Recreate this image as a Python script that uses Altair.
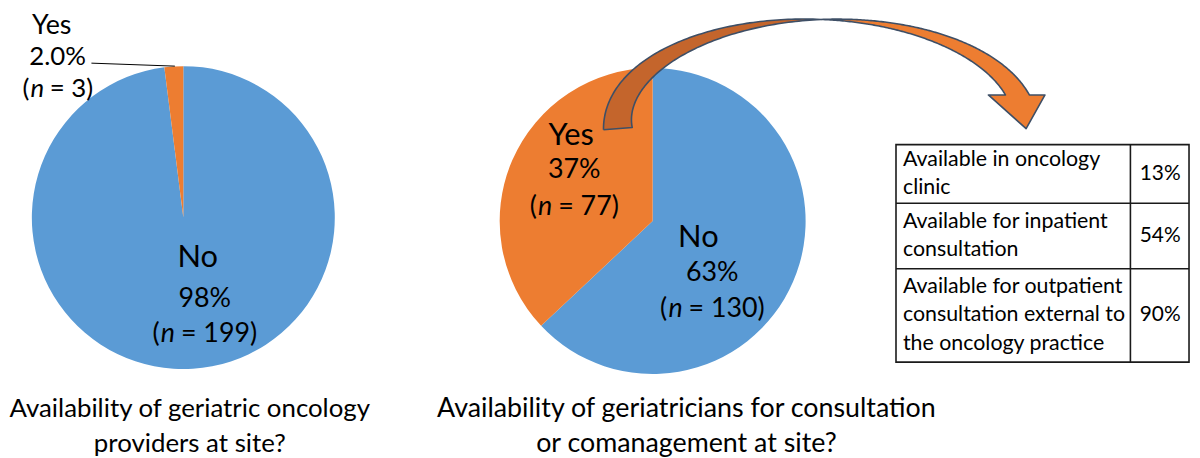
import math
import altair as alt
import pandas as pd

# ---------------- data ----------------
pie1_categories = ["No", "Yes"]
pie1_percent = [98, 2]
pie1_percent_labels = ["98%", "2.0%"]
pie1_counts = [199, 3]
pie1_title = ["Availability of geriatric oncology", "providers at site?"]

pie2_categories = ["No", "Yes"]
pie2_percent = [63, 37]
pie2_percent_labels = ["63%", "37%"]
pie2_counts = [130, 77]
pie2_title = ["Availability of geriatricians for consultation", "or comanagement at site?"]

table_labels = [
    ["Available in oncology", "clinic"],
    ["Available for inpatient", "consultation"],
    ["Available for outpatient", "consultation external to", "the oncology practice"],
]
table_values = ["13%", "54%", "90%"]

# ---------------- layout / style ----------------
OFF = 8
W, H = 1192, 450
BLUE = "#5B9BD5"
ORANGE = "#ED7D31"
DARK_ORANGE = "#C4652C"
OUTLINE = "#3E4F66"
FONT = "Lato"

XS = alt.Scale(domain=[OFF, OFF + W], nice=False, zero=False)
YS = alt.Scale(domain=[OFF, OFF + H], reverse=True, nice=False, zero=False)
COLOR = alt.Scale(domain=["No", "Yes"], range=[BLUE, ORANGE])

one = pd.DataFrame({"k": [0]})


def px(v):
    return v - OFF


def text(s, x, y, size, align="center", **kw):
    return alt.Chart(one).mark_text(
        text=s, font=FONT, fontSize=size, align=align, baseline="middle", color="black", **kw
    ).encode(x=alt.value(px(x)), y=alt.value(px(y)))


CW = {"(": 0.31, ")": 0.31, " ": 0.2, "=": 0.58, "n": 0.55, "%": 0.78, ".": 0.24}


def tw(s, size):
    return sum(CW.get(c, 0.58) for c in s) * size


def n_label(count, x, y, size):
    rest = f"= {count})"
    total = tw("(", size) + tw("n", size) + tw(" ", size) + tw(rest, size)
    x0 = x - total / 2
    return [
        text("(", x0, y, size, align="left"),
        text("n", x0 + tw("(", size), y, size, align="left", fontStyle="italic"),
        text(rest, x0 + tw("(", size) + tw("n", size) + tw(" ", size), y, size, align="left"),
    ]


def pie(cats, vals, cx, cy, r):
    df = pd.DataFrame({"cat": cats, "pct": vals, "ord": list(range(len(cats)))})
    return alt.Chart(df).mark_arc(radius=r).encode(
        theta=alt.Theta("pct:Q", stack=True),
        color=alt.Color("cat:N", scale=COLOR, legend=None),
        order=alt.Order("ord:Q"),
        x=alt.value(px(cx)),
        y=alt.value(px(cy)),
    )


def rule(x1, y1, x2, y2, color="black", width=1.0):
    return alt.Chart(one).mark_rule(color=color, strokeWidth=width).encode(
        x=alt.value(px(x1)), y=alt.value(px(y1)), x2=alt.value(px(x2)), y2=alt.value(px(y2))
    )


# ---------------- curved arrow (decorative) ----------------
E_CX, E_CY, E_A, E_B = 827.0, 123.5, 205.2, 105.5


def edge(th, off):
    t = math.radians(th)
    x = E_CX + E_A * math.cos(t)
    yup = E_B * math.sin(t)
    nx, ny = E_B * math.cos(t), E_A * math.sin(t)
    L = math.hypot(nx, ny)
    return (x + nx / L * off, E_CY - (yup + ny / L * off))


TH_START, TAIL_W = 182.4, 29.0
left_th = [TH_START - i for i in range(int(TH_START - 90))] + [90.0]
left_outer = [edge(t, TAIL_W * (t - 90) / (TH_START - 90) / 2) for t in left_th]
left_inner = [edge(t, -TAIL_W * (t - 90) / (TH_START - 90) / 2) for t in left_th]
left_poly = left_outer + left_inner[::-1] + [left_outer[0]]

HEAD_Y, HEAD_W, TH_JOINT = 94.0, 21.0, 16.2


def clipped_edge(sign):
    pts = []
    th = 90.0
    prev = None
    while th > -10:
        p = edge(th, sign * HEAD_W * (90 - th) / (90 - TH_JOINT) / 2)
        if p[1] >= HEAD_Y:
            if prev is not None:
                f = (HEAD_Y - prev[1]) / (p[1] - prev[1])
                pts.append((prev[0] + f * (p[0] - prev[0]), HEAD_Y))
            break
        pts.append(p)
        prev = p
        th -= 0.5
    return pts


right_outer = clipped_edge(1)
right_inner = clipped_edge(-1)
head = [(1052.0, HEAD_Y), (1033.0, 128.0), (995.0, HEAD_Y)]
right_poly = right_outer + head + right_inner[::-1] + [right_outer[0]]


def poly_chart(pts, fill):
    df = pd.DataFrame({"x": [p[0] for p in pts], "y": [p[1] for p in pts], "i": list(range(len(pts)))})
    return alt.Chart(df).mark_line(
        fill=fill, stroke=OUTLINE, strokeWidth=1.6, strokeJoin="round"
    ).encode(
        x=alt.X("x:Q", scale=XS, axis=None),
        y=alt.Y("y:Q", scale=YS, axis=None),
        order=alt.Order("i:Q"),
    )


# ---------------- assemble ----------------
LBL, PCT = 31, 27
layers = []
layers.append(pie(pie1_categories, pie1_percent, 184.5, 217.5, 152.5))
layers.append(pie(pie2_categories, pie2_percent, 657, 221, 154))

# pie 1 labels
layers.append(text(pie1_categories[1], 52, 25, 27))
layers.append(text(pie1_percent_labels[1], 58, 56, 26))
layers += n_label(pie1_counts[1], 58, 88, 26)
layers.append(rule(92, 62, 176, 65, width=1.0))
layers.append(text(pie1_categories[0], 199, 258, LBL))
layers.append(text(pie1_percent_labels[0], 206, 299, PCT))
layers += n_label(pie1_counts[0], 206, 335, PCT)

# pie 2 labels
layers.append(text(pie2_categories[1], 575, 135, LBL))
layers.append(text(pie2_percent_labels[1], 578, 170, PCT))
layers += n_label(pie2_counts[1], 578, 207, PCT)
layers.append(text(pie2_categories[0], 703, 238, LBL))
layers.append(text(pie2_percent_labels[0], 717, 273, PCT))
layers += n_label(pie2_counts[0], 717, 310, PCT)

# titles
for j, line in enumerate(pie1_title):
    layers.append(text(line, 191, 410 + 35 * j, 26))
for j, line in enumerate(pie2_title):
    layers.append(text(line, 691, 410 + 35 * j, 27))

# arrow
layers.append(poly_chart(right_poly, ORANGE))
layers.append(poly_chart(left_poly, DARK_ORANGE))

# table
T_L, T_R, T_DIV = 902, 1197, 1138
T_ROWS = [144, 203, 269, 363]
layers.append(
    alt.Chart(one).mark_rect(fill="white", stroke="#1a1a1a", strokeWidth=1.6).encode(
        x=alt.value(px(T_L)), x2=alt.value(px(T_R)), y=alt.value(px(T_ROWS[0])), y2=alt.value(px(T_ROWS[-1]))
    )
)
layers.append(rule(T_DIV, T_ROWS[0], T_DIV, T_ROWS[-1], color="#1a1a1a", width=1.6))
for yb in T_ROWS[1:-1]:
    layers.append(rule(T_L, yb, T_R, yb, color="#1a1a1a", width=1.6))
LH = 28.5
for r, (lines, val) in enumerate(zip(table_labels, table_values)):
    cy = (T_ROWS[r] + T_ROWS[r + 1]) / 2
    n = len(lines)
    for j, line in enumerate(lines):
        layers.append(text(line, 909, cy + (j - (n - 1) / 2) * LH, 21.5, align="left"))
    layers.append(text(val, 1168, cy, 21))

chart = (
    alt.layer(*layers)
    .properties(width=W, height=H, padding=0, autosize=alt.AutoSizeParams(type="none"))
    .configure_view(stroke=None)
)

chart.save("out.html", embed_options={"renderer": "svg", "actions": False})
